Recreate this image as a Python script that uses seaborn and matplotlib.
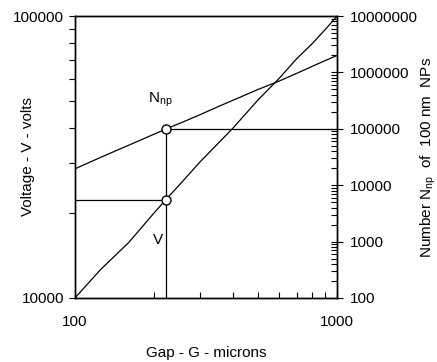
import numpy as np
import pandas as pd
import matplotlib
matplotlib.use("Agg")
import matplotlib.pyplot as plt
import seaborn as sns
from matplotlib.ticker import FixedLocator, NullFormatter, LogLocator

# data
gap = [100, 125, 160, 200, 222, 260, 300, 350, 400, 500, 600, 700, 800, 900, 1000]
voltage = [10000, 12600, 15700, 20000, 22300, 26200, 30400, 35200, 40000, 50500,
           60000, 70500, 79500, 89500, 100000]
n_np = [19500, 31000, 51000, 80000, 99000, 134000, 178000, 245000, 320000, 500000,
        700000, 960000, 1270000, 1620000, 2000000]

gap_mark = 222
v_mark = 22300
n_mark = 100000

left_ticks = [10000, 100000]
right_ticks = [100, 1000, 10000, 100000, 1000000, 10000000]
x_ticks = [100, 1000]

FS = 11
LW = 0.9

sns.set_style("ticks")
plt.rcParams['font.family'] = ['Liberation Sans', 'DejaVu Sans']
plt.rcParams['mathtext.default'] = 'regular'
plt.rcParams['font.size'] = FS
for k in ('text.color', 'axes.labelcolor', 'xtick.color', 'ytick.color', 'axes.edgecolor'):
    plt.rcParams[k] = 'black'

df = pd.DataFrame({'gap': gap, 'voltage': voltage, 'n_np': n_np})

fig = plt.figure(figsize=(4.37, 3.62), dpi=100)
ax = fig.add_axes([0.1716, 0.1768, 0.6, 0.779])
ax2 = ax.twinx()

sns.lineplot(data=df, x='gap', y='voltage', ax=ax, color='black', lw=LW,
             estimator=None, sort=False)
sns.lineplot(data=df, x='gap', y='n_np', ax=ax2, color='black', lw=LW,
             estimator=None, sort=False)

for a in (ax, ax2):
    a.set_xscale('log')
ax.set_yscale('log')
ax2.set_yscale('log')
ax.set_xlim(100, 1000)
ax.set_ylim(10000, 100000)
ax2.set_ylim(100, 10000000)

# guide lines to the marked points
ax.plot([100, gap_mark], [v_mark, v_mark], color='black', lw=LW)
ax2.plot([gap_mark, gap_mark], [100, n_mark], color='black', lw=LW)
ax2.plot([gap_mark, 1000], [n_mark, n_mark], color='black', lw=LW)
ax2.plot([gap_mark], [n_mark], 'o', ms=6.5, mfc='white', mec='black', mew=1.0, zorder=5)
ax2.plot([gap_mark], [v_mark], 'o', ms=6.5, mfc='white', mec='black', mew=1.0,
         zorder=5, transform=ax.transData)

ax.text(211, 50400, 'N$_{np}$', ha='center', va='center', fontsize=FS)
ax.text(207, 16000, 'V', ha='center', va='center', fontsize=FS)

# ticks
ax.xaxis.set_major_locator(FixedLocator(x_ticks))
ax.set_xticklabels([str(t) for t in x_ticks])
ax.xaxis.set_minor_locator(LogLocator(base=10, subs=np.arange(2, 10)))
ax.xaxis.set_minor_formatter(NullFormatter())
ax.yaxis.set_major_locator(FixedLocator(left_ticks))
ax.set_yticklabels([str(t) for t in left_ticks])
ax.yaxis.set_minor_locator(LogLocator(base=10, subs=np.arange(2, 10)))
ax.yaxis.set_minor_formatter(NullFormatter())
ax2.yaxis.set_major_locator(FixedLocator(right_ticks))
ax2.set_yticklabels([str(t) for t in right_ticks])
ax2.yaxis.set_minor_locator(LogLocator(base=10, subs=np.arange(2, 10), numticks=20))
ax2.yaxis.set_minor_formatter(NullFormatter())

ax.tick_params(axis='x', which='both', direction='in', length=4, width=0.8, pad=12, labelsize=FS)
ax.tick_params(axis='y', which='both', direction='out', length=4, width=0.8, pad=4, labelsize=FS)
ax2.tick_params(axis='y', which='major', direction='inout', length=8, width=0.8, pad=5, labelsize=FS)
ax2.tick_params(axis='y', which='minor', direction='in', length=4, width=0.8)

for a in (ax, ax2):
    for s in a.spines.values():
        s.set_visible(True)
        s.set_linewidth(1.0)
        s.set_color('black')

ax.set_xlabel('Gap - G - microns', fontsize=FS)
ax.set_ylabel('Voltage - V - volts', fontsize=FS)
ax2.set_ylabel('Number N$_{np}$  of  100 nm  NPs', fontsize=FS)
ax.xaxis.set_label_coords(0.5, -0.17)
ax.yaxis.set_label_coords(-0.152, 0.5)
ax2.yaxis.set_label_coords(1.312, 0.5)

fig.savefig('out.png', dpi=100)
